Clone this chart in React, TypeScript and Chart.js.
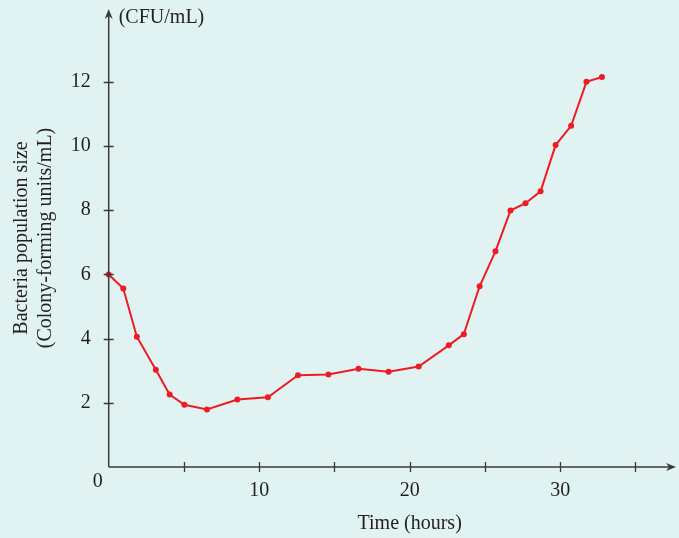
import React, { useEffect, useRef } from "react";
import { Chart, registerables } from "chart.js";

Chart.register(...registerables);

// Data
const timeHours = [0, 0.97, 1.87, 3.13, 4.05, 5.03, 6.53, 8.55, 10.58, 12.58, 14.6, 16.6, 18.6, 20.6, 22.6, 23.6, 24.65, 25.7, 26.7, 27.7, 28.7, 29.7, 30.73, 31.75, 32.78];
const populationSize = [6.0, 5.56, 4.06, 3.03, 2.26, 1.94, 1.79, 2.1, 2.17, 2.86, 2.88, 3.06, 2.97, 3.13, 3.79, 4.14, 5.63, 6.72, 7.99, 8.22, 8.59, 10.03, 10.63, 12.0, 12.15];
const xTickMarks = [5, 10, 15, 20, 25, 30, 35];
const xTickLabels = [10, 20, 30];
const yTickMarks = [2, 4, 6, 8, 10, 12];
const yTickLabels = [2, 4, 6, 8, 10, 12];

const yTitleLines = ["Bacteria population size", "(Colony-forming units/mL)"];
const xTitle = "Time (hours)";
const unitLabel = "(CFU/mL)";
const originLabel = "0";

const BG = "#e0f2f2";
const TEXT = "#231f20";
const AXIS = "#3a3a3a";
const RED = "#ed1c24";
const FONT = "'Liberation Serif', 'Times New Roman', serif";

export default function App() {
  const canvasRef = useRef<HTMLCanvasElement | null>(null);

  useEffect(() => {
    document.body.style.margin = "0";
    document.body.style.background = BG;
    const canvas = canvasRef.current;
    if (!canvas) return;

    const decorations = {
      id: "decorations",
      beforeDraw(chart: any) {
        const ctx = chart.ctx;
        ctx.save();
        ctx.fillStyle = BG;
        ctx.fillRect(0, 0, chart.width, chart.height);
        ctx.restore();
      },
      afterDraw(chart: any) {
        const ctx = chart.ctx;
        const xs = chart.scales.x;
        const ys = chart.scales.y;
        const x0 = xs.getPixelForValue(0);
        const y0 = ys.getPixelForValue(0);
        const xEnd = chart.chartArea.right;
        const yTop = chart.chartArea.top;
        ctx.save();
        ctx.strokeStyle = AXIS;
        ctx.fillStyle = AXIS;
        ctx.lineWidth = 1.5;
        // axes
        ctx.beginPath();
        ctx.moveTo(x0, y0);
        ctx.lineTo(xEnd - 5, y0);
        ctx.moveTo(x0, y0);
        ctx.lineTo(x0, yTop + 5);
        ctx.stroke();
        // arrowheads
        ctx.beginPath();
        ctx.moveTo(xEnd, y0);
        ctx.lineTo(xEnd - 10, y0 - 4);
        ctx.lineTo(xEnd - 7, y0);
        ctx.lineTo(xEnd - 10, y0 + 4);
        ctx.closePath();
        ctx.fill();
        ctx.beginPath();
        ctx.moveTo(x0, yTop);
        ctx.lineTo(x0 - 4, yTop + 10);
        ctx.lineTo(x0, yTop + 7);
        ctx.lineTo(x0 + 4, yTop + 10);
        ctx.closePath();
        ctx.fill();
        // tick marks crossing the axes
        ctx.lineWidth = 1.3;
        ctx.beginPath();
        for (const v of xTickMarks) {
          const px = Math.round(xs.getPixelForValue(v)) + 0.5;
          ctx.moveTo(px, y0 - 5);
          ctx.lineTo(px, y0 + 5);
        }
        for (const v of yTickMarks) {
          const py = Math.round(ys.getPixelForValue(v)) + 0.5;
          ctx.moveTo(x0 - 5, py);
          ctx.lineTo(x0 + 5, py);
        }
        ctx.stroke();
        // texts
        ctx.fillStyle = TEXT;
        ctx.font = `20px ${FONT}`;
        ctx.textBaseline = "middle";
        ctx.textAlign = "left";
        ctx.fillText(unitLabel, x0 + 10, 18);
        ctx.textAlign = "center";
        ctx.fillText(xTitle, xs.getPixelForValue(20), 524);
        ctx.fillText(originLabel, x0 - 11, y0 + 15);
        ctx.restore();
      },
    };

    const chart = new Chart(canvas, {
      type: "line",
      data: {
        datasets: [
          {
            data: timeHours.map((t, i) => ({ x: t, y: populationSize[i] })),
            borderColor: RED,
            backgroundColor: RED,
            borderWidth: 2,
            pointRadius: 3,
            pointHoverRadius: 3,
            pointBorderWidth: 0,
            tension: 0,
            clip: false as any,
          },
        ],
      },
      options: {
        animation: false,
        responsive: false,
        maintainAspectRatio: false,
        layout: { padding: { top: 9, right: 2, left: 0, bottom: 0 } },
        plugins: { legend: { display: false }, tooltip: { enabled: false } },
        scales: {
          x: {
            type: "linear",
            min: 0,
            max: 37.7,
            grid: { display: false },
            border: { display: false },
            afterFit: (s: any) => {
              s.height = 71;
              s.paddingLeft = 0;
              s.paddingRight = 0;
            },
            ticks: {
              stepSize: 5,
              autoSkip: false,
              maxRotation: 0,
              padding: 4,
              color: TEXT,
              font: { family: FONT, size: 20 },
              callback: (v: any) => (xTickLabels.includes(Number(v)) ? String(v) : ""),
            },
          },
          y: {
            type: "linear",
            min: 0,
            max: 14.27,
            grid: { display: false },
            border: { display: false },
            afterFit: (s: any) => {
              s.width = 108.7;
              s.paddingTop = 0;
              s.paddingBottom = 0;
            },
            title: {
              display: true,
              text: yTitleLines,
              color: TEXT,
              font: { family: FONT, size: 20, lineHeight: 1.2 },
              padding: { top: 10, bottom: 0 },
            },
            ticks: {
              stepSize: 2,
              autoSkip: false,
              padding: 10,
              color: TEXT,
              font: { family: FONT, size: 20 },
              callback: (v: any) => (yTickLabels.includes(Number(v)) ? String(v) : ""),
            },
          },
        },
      },
      plugins: [decorations],
    });

    return () => chart.destroy();
  }, []);

  return (
    <div style={{ position: "absolute", left: 0, top: 0, width: 679, height: 538, background: BG }}>
      <canvas ref={canvasRef} width={679} height={538} style={{ width: 679, height: 538, display: "block" }} />
    </div>
  );
}
